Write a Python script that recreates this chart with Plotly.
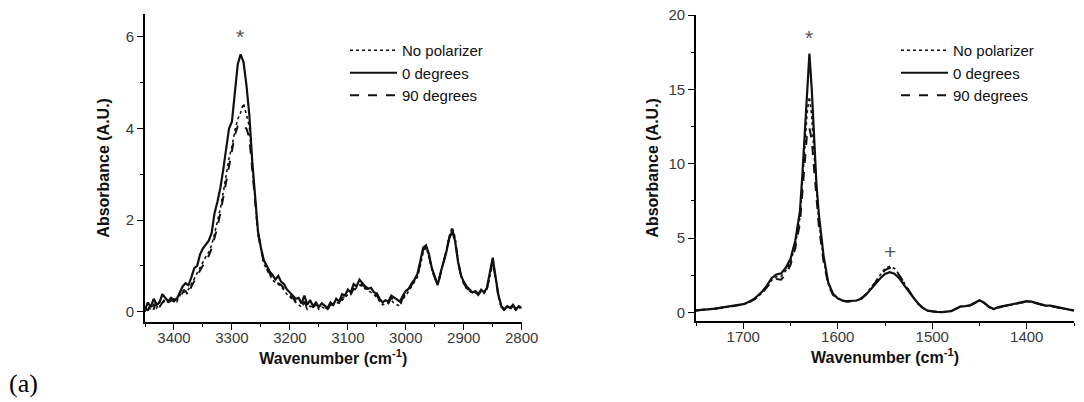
import plotly.graph_objects as go

W, H = 1084, 402

# ---------------- Left panel data (N-H / C-H stretch region) ----------------
wn_left = [3450 - 5 * i for i in range(131)]

abs_left_nopol = [
    0.00, 0.10, 0.05, 0.15, 0.08, 0.22, 0.18, 0.25, 0.20, 0.22,
    0.28, 0.22, 0.35, 0.45, 0.50, 0.48, 0.60, 0.72, 0.85, 0.95,
    1.10, 1.20, 1.30, 1.45, 1.70, 1.95, 2.25, 2.60, 2.95, 3.35,
    3.60, 3.95, 4.20, 4.35, 4.55, 4.30, 4.05, 3.20, 2.40, 1.70,
    1.35, 1.05, 0.92, 0.80, 0.70, 0.62, 0.60, 0.55, 0.45, 0.38,
    0.32, 0.25, 0.20, 0.15, 0.10, 0.18, 0.05, 0.12, 0.08, 0.15,
    0.05, 0.10, 0.08, 0.05, 0.12, 0.15, 0.20, 0.18, 0.25, 0.30,
    0.38, 0.40, 0.48, 0.52, 0.58, 0.55, 0.50, 0.45, 0.42, 0.38,
    0.30, 0.22, 0.15, 0.18, 0.20, 0.25, 0.18, 0.15, 0.12, 0.28,
    0.35, 0.45, 0.55, 0.65, 0.75, 1.00, 1.30, 1.40, 1.20, 0.92,
    0.72, 0.60, 0.82, 1.08, 1.35, 1.65, 1.85, 1.62, 1.15, 0.78,
    0.60, 0.50, 0.45, 0.40, 0.42, 0.38, 0.45, 0.40, 0.48, 0.75,
    1.05, 0.70, 0.30, 0.10, 0.02, 0.10, 0.05, 0.12, 0.03, 0.10,
    0.05,
]

abs_left_0deg = [
    0.05, 0.20, 0.10, 0.28, 0.15, 0.20, 0.38, 0.30, 0.22, 0.30,
    0.25, 0.28, 0.40, 0.55, 0.62, 0.58, 0.75, 0.95, 1.00, 1.25,
    1.38, 1.48, 1.55, 1.72, 2.15, 2.40, 2.70, 3.10, 3.55, 4.00,
    4.15, 4.75, 5.40, 5.62, 5.45, 4.95, 4.30, 3.30, 2.45, 1.75,
    1.40, 1.12, 1.00, 0.88, 0.80, 0.70, 0.78, 0.65, 0.60, 0.48,
    0.42, 0.35, 0.28, 0.30, 0.18, 0.35, 0.15, 0.25, 0.12, 0.20,
    0.10, 0.18, 0.12, 0.08, 0.20, 0.15, 0.28, 0.22, 0.38, 0.35,
    0.48, 0.42, 0.60, 0.55, 0.70, 0.62, 0.55, 0.50, 0.52, 0.42,
    0.40, 0.28, 0.20, 0.25, 0.22, 0.35, 0.30, 0.25, 0.22, 0.35,
    0.45, 0.50, 0.62, 0.70, 0.82, 1.10, 1.40, 1.45, 1.25, 0.95,
    0.78, 0.58, 0.85, 1.05, 1.30, 1.60, 1.75, 1.55, 1.10, 0.80,
    0.65, 0.55, 0.48, 0.42, 0.45, 0.38, 0.48, 0.42, 0.52, 0.85,
    1.18, 0.75, 0.35, 0.12, 0.05, 0.12, 0.08, 0.15, 0.05, 0.12,
    0.08,
]

abs_left_90deg = [
    0.10, 0.02, 0.18, 0.05, 0.25, 0.10, 0.20, 0.28, 0.18, 0.25,
    0.22, 0.30, 0.28, 0.42, 0.45, 0.35, 0.55, 0.68, 0.78, 0.90,
    1.00, 1.12, 1.22, 1.38, 1.60, 1.85, 2.15, 2.50, 2.85, 3.20,
    3.50, 3.85, 4.05, 4.10, 4.05, 4.00, 3.80, 3.10, 2.35, 1.72,
    1.38, 1.08, 0.95, 0.82, 0.72, 0.65, 0.62, 0.58, 0.50, 0.42,
    0.35, 0.30, 0.22, 0.20, 0.12, 0.22, 0.08, 0.15, 0.10, 0.18,
    0.08, 0.12, 0.10, 0.06, 0.15, 0.12, 0.22, 0.20, 0.30, 0.32,
    0.42, 0.38, 0.50, 0.48, 0.62, 0.58, 0.52, 0.48, 0.45, 0.40,
    0.35, 0.25, 0.18, 0.22, 0.18, 0.30, 0.25, 0.20, 0.18, 0.30,
    0.40, 0.48, 0.58, 0.68, 0.78, 1.05, 1.35, 1.42, 1.22, 0.92,
    0.75, 0.58, 0.82, 1.05, 1.32, 1.62, 1.80, 1.58, 1.12, 0.80,
    0.62, 0.52, 0.46, 0.40, 0.44, 0.36, 0.46, 0.40, 0.50, 0.80,
    1.10, 0.72, 0.32, 0.10, 0.04, 0.10, 0.06, 0.14, 0.04, 0.10,
    0.06,
]

# ---------------- Right panel data (amide region) ----------------
wn_right = [
    1750, 1745, 1740, 1735, 1730, 1725, 1720, 1715, 1710, 1705,
    1700, 1695, 1690, 1685, 1680, 1675, 1670, 1665, 1660, 1655,
    1650, 1645, 1640, 1637.5, 1635, 1632.5, 1630, 1627.5, 1625, 1622.5, 1620, 1615, 1610, 1605,
    1600, 1595, 1590, 1585, 1580, 1575, 1570, 1565, 1560, 1555,
    1550, 1545, 1540, 1535, 1530, 1525, 1520, 1515, 1510, 1505,
    1500, 1495, 1490, 1485, 1480, 1475, 1470, 1465, 1460, 1455,
    1450, 1445, 1440, 1435, 1430, 1425, 1420, 1415, 1410, 1405,
    1400, 1395, 1390, 1385, 1380, 1375, 1370, 1365, 1360, 1355,
    1350,
]

abs_right_nopol = [
    0.12, 0.14, 0.17, 0.20, 0.24, 0.28, 0.32, 0.36, 0.40, 0.46,
    0.52, 0.64, 0.80, 1.02, 1.32, 1.70, 2.15, 2.40, 2.42, 2.80,
    3.40, 4.50, 6.40, 8.60, 11.20, 13.40, 14.50, 13.20, 10.60, 8.00, 6.20, 3.60, 1.90, 1.20,
    0.92, 0.78, 0.72, 0.75, 0.80, 0.95, 1.25, 1.65, 2.10, 2.55,
    2.95, 3.10, 2.95, 2.55, 2.00, 1.48, 1.02, 0.60, 0.30, 0.12,
    0.04, 0.02, 0.02, 0.03, 0.10, 0.22, 0.38, 0.40, 0.45, 0.62,
    0.80, 0.62, 0.35, 0.20, 0.32, 0.40, 0.46, 0.52, 0.58, 0.65,
    0.72, 0.70, 0.60, 0.50, 0.43, 0.42, 0.36, 0.28, 0.20, 0.16,
    0.12,
]

abs_right_0deg = [
    0.14, 0.15, 0.18, 0.22, 0.25, 0.30, 0.33, 0.38, 0.42, 0.48,
    0.55, 0.68, 0.85, 1.10, 1.40, 1.80, 2.30, 2.55, 2.62, 3.00,
    3.60, 4.80, 6.80, 9.20, 12.20, 15.20, 17.40, 15.00, 11.50, 8.60, 6.60, 3.80, 2.00, 1.25,
    0.95, 0.80, 0.75, 0.78, 0.80, 0.92, 1.20, 1.55, 1.95, 2.30,
    2.58, 2.70, 2.60, 2.30, 1.85, 1.40, 1.00, 0.60, 0.30, 0.12,
    0.05, 0.03, 0.02, 0.03, 0.08, 0.25, 0.40, 0.42, 0.48, 0.65,
    0.82, 0.65, 0.38, 0.22, 0.35, 0.42, 0.48, 0.55, 0.60, 0.68,
    0.75, 0.72, 0.62, 0.52, 0.45, 0.45, 0.38, 0.30, 0.22, 0.18,
    0.14,
]

abs_right_90deg = [
    0.13, 0.15, 0.18, 0.21, 0.25, 0.29, 0.33, 0.37, 0.41, 0.47,
    0.53, 0.65, 0.80, 1.02, 1.30, 1.68, 2.10, 2.25, 2.20, 2.55,
    3.20, 4.30, 6.00, 8.00, 10.20, 12.00, 12.40, 11.60, 9.60, 7.40, 5.80, 3.40, 1.85, 1.18,
    0.90, 0.78, 0.72, 0.75, 0.80, 0.95, 1.22, 1.62, 2.05, 2.50,
    2.85, 3.00, 2.90, 2.50, 1.98, 1.45, 1.00, 0.60, 0.30, 0.12,
    0.05, 0.03, 0.02, 0.03, 0.09, 0.24, 0.38, 0.41, 0.46, 0.63,
    0.80, 0.63, 0.36, 0.21, 0.33, 0.41, 0.47, 0.53, 0.59, 0.66,
    0.73, 0.70, 0.61, 0.51, 0.44, 0.43, 0.36, 0.29, 0.21, 0.16,
    0.13,
]

series_names = ["No polarizer", "0 degrees", "90 degrees"]
series_dash = ["dot", "solid", "dash"]
series_width = [1.6, 2.2, 2.0]

FONT = "Liberation Sans, Arial, sans-serif"
INK = "#111111"
TICK_COL = "#3a3a3a"

fig = go.Figure()

left_sets = [abs_left_nopol, abs_left_0deg, abs_left_90deg]
right_sets = [abs_right_nopol, abs_right_0deg, abs_right_90deg]

for name, dash, wd, ys in zip(series_names, series_dash, series_width, left_sets):
    fig.add_trace(go.Scatter(x=wn_left, y=ys, mode="lines", name=name,
                             line=dict(color=INK, width=wd, dash=dash),
                             xaxis="x", yaxis="y", legend="legend"))
for name, dash, wd, ys in zip(series_names, series_dash, series_width, right_sets):
    fig.add_trace(go.Scatter(x=wn_right, y=ys, mode="lines", name=name,
                             line=dict(color=INK, width=wd, dash=dash),
                             xaxis="x2", yaxis="y2", legend="legend2"))

def xax(domain, rng, dtick, tick0, minor, anchor):
    return dict(domain=domain, range=rng, dtick=dtick, tick0=tick0, anchor=anchor,
                automargin=False,
                showline=True, linecolor="black", linewidth=1.6,
                ticks="outside", ticklen=6, tickwidth=1.4, tickcolor="black",
                ticklabelstandoff=-5,
                minor=dict(dtick=minor, tick0=tick0, ticks="outside", ticklen=3,
                           tickwidth=1.2, tickcolor="black"),
                showgrid=False, zeroline=False,
                tickfont=dict(family=FONT, size=15, color=TICK_COL),
                title=dict(text="<b>Wavenumber (cm<sup>-1</sup>)</b>",
                           font=dict(family=FONT, size=16, color=INK), standoff=8))

def yax(domain, rng, dtick, minor, anchor, standoff):
    return dict(domain=domain, range=rng, dtick=dtick, tick0=0, anchor=anchor,
                automargin=False,
                showline=True, linecolor="black", linewidth=1.6,
                ticks="outside", ticklen=6, tickwidth=1.4, tickcolor="black",
                minor=dict(dtick=minor, tick0=0, ticks="outside", ticklen=3,
                           tickwidth=1.2, tickcolor="black"),
                showgrid=False, zeroline=False,
                tickfont=dict(family=FONT, size=15, color=TICK_COL),
                title=dict(text="<b>Absorbance (A.U.)</b>",
                           font=dict(family=FONT, size=16, color=INK), standoff=standoff))

legend_common = dict(font=dict(family=FONT, size=15, color=INK), bgcolor="rgba(0,0,0,0)",
                     borderwidth=0, xanchor="left", yanchor="top", tracegroupgap=0,
                     itemwidth=47)

fig.update_layout(
    width=W, height=H, margin=dict(l=0, r=0, t=0, b=0, autoexpand=False),
    paper_bgcolor="white", plot_bgcolor="white",
    xaxis=xax([145 / W, 521.7 / W], [3450, 2800], 100, 3400, 50, "y"),
    yaxis=yax([(H - 321.7) / H, (H - 14) / H], [-0.22, 6.5], 2, 1, "x", 12),
    xaxis2=xax([696 / W, 1074 / W], [1750, 1350], 100, 1700, 50, "y2"),
    yaxis2=yax([(H - 320.7) / H, (H - 15) / H], [-0.56, 20], 5, 2.5, "x2", 6),
    legend=dict(x=345 / W, y=(H - 34) / H, **legend_common),
    legend2=dict(x=896 / W, y=(H - 34) / H, **legend_common),
    showlegend=True,
    annotations=[
        dict(text="*", x=3286, y=6.0, xref="x", yref="y", showarrow=False,
             font=dict(family=FONT, size=21, color="#555555")),
        dict(text="*", x=1630, y=18.5, xref="x2", yref="y2", showarrow=False,
             font=dict(family=FONT, size=21, color="#555555")),
        dict(text="+", x=1545, y=4.1, xref="x2", yref="y2", showarrow=False,
             font=dict(family=FONT, size=21, color="#555555")),
        dict(text="(a)", x=7 / W, y=(H - 383) / H, xref="paper", yref="paper",
             xanchor="left", yanchor="middle", showarrow=False,
             font=dict(family="Liberation Serif, Times New Roman, serif", size=26, color="black")),
    ],
)

fig.write_html("out.html")
